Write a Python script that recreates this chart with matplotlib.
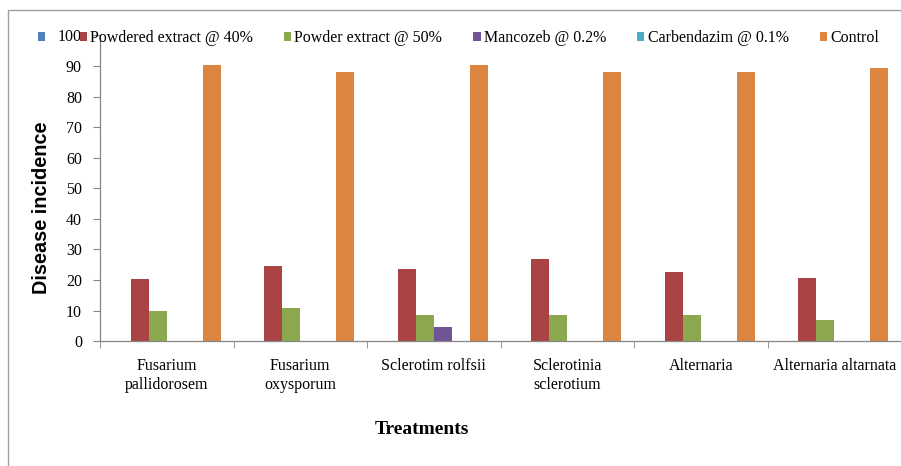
import numpy as np
import matplotlib
matplotlib.use("Agg")
import matplotlib.pyplot as plt
from matplotlib.patches import Rectangle

categories = ["Fusarium\npallidorosem", "Fusarium\noxysporum", "Sclerotim rolfsii",
              "Sclerotinia\nsclerotium", "Alternaria", "Alternaria altarnata"]
series_names = ["", "Powdered extract @ 40%", "Powder extract @ 50%",
                "Mancozeb @ 0.2%", "Carbendazim @ 0.1%", "Control"]
blank = [0, 0, 0, 0, 0, 0]
powdered_40 = [20.2, 24.6, 23.6, 27.0, 22.5, 20.8]
powder_50 = [10.0, 10.7, 8.7, 8.5, 8.5, 6.9]
mancozeb = [0, 0, 4.5, 0, 0, 0]
carbendazim = [0, 0, 0, 0, 0, 0]
control = [90.3, 88.0, 90.2, 88.0, 88.0, 89.2]
colors = ["#4F81BD", "#AA4444", "#8BA84E", "#705496", "#4BACC6", "#DB8540"]

values = [blank, powdered_40, powder_50, mancozeb, carbendazim, control]

serif = ["Liberation Serif", "DejaVu Serif"]
plt.rcParams["font.family"] = serif

fig = plt.figure(figsize=(9.01, 4.66), dpi=100)
ax = fig.add_axes([0.111, 0.268, 0.889, 0.656])

# outer chart border like the spreadsheet export
fig.patches.append(Rectangle((8 / 901, -0.1), 1.2, 1 - 10 / 466 + 0.1,
                             transform=fig.transFigure, fill=False,
                             edgecolor="#A0A0A0", linewidth=1.0))

x = np.arange(len(categories))
width = 0.135
handles = []
for i, (vals, c) in enumerate(zip(values, colors)):
    handles.append(ax.bar(x + (i - 2.5) * width, vals, width, color=c))

ax.set_xlim(-0.5, len(categories) - 0.5)
ax.set_ylim(0, 100)
ax.set_yticks(np.arange(0, 101, 10))
ax.set_xticks(x)
ax.set_xticklabels(categories, fontsize=11.5, linespacing=1.25)
ax.set_xticks(np.arange(-0.5, len(categories)), minor=True)
ax.tick_params(axis="x", which="major", length=0, pad=12)
ax.tick_params(axis="x", which="minor", length=5, color="#868686", direction="out")
ax.tick_params(axis="y", length=5, color="#868686", labelsize=11.5, pad=8)

for s in ["top", "right"]:
    ax.spines[s].set_visible(False)
for s in ["left", "bottom"]:
    ax.spines[s].set_color("#868686")
    ax.spines[s].set_linewidth(0.9)

ax.set_ylabel("Disease incidence", fontsize=14.3, fontweight="bold",
              family=["Liberation Sans", "DejaVu Sans"])
ax.yaxis.set_label_coords(-0.061, 0.436)
fig.text(422 / 901, 1 - 429 / 466, "Treatments", fontsize=14, fontweight="bold",
         ha="center", va="center")

ax.legend(handles, series_names, loc="center left",
          bbox_to_anchor=(38 / 901, 1 - 38 / 466),
          bbox_transform=fig.transFigure, ncol=6, frameon=False,
          fontsize=11.5, handlelength=0.45, handleheight=0.45,
          handletextpad=0.2, columnspacing=1.95, borderpad=0, borderaxespad=0)

fig.savefig("out.png", dpi=100)
